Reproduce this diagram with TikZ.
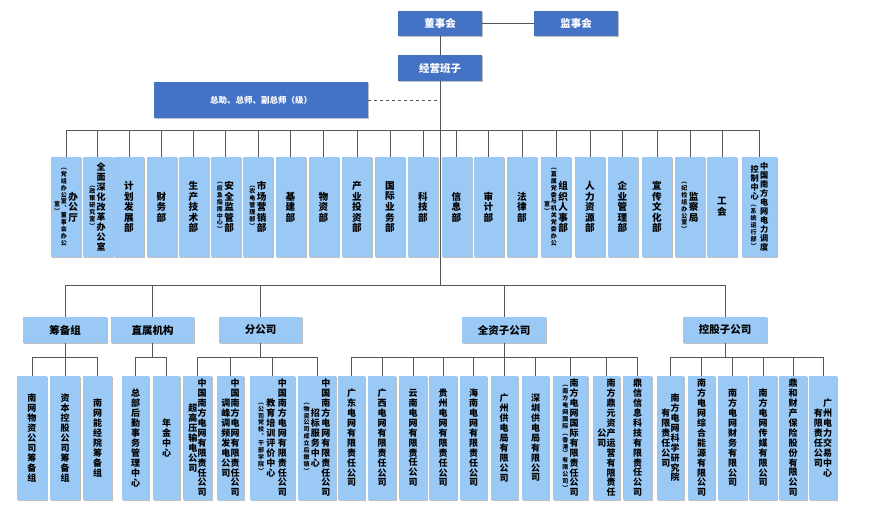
\documentclass[tikz,border=0pt]{standalone}
\usepackage{fontspec}
\setmainfont{Noto Sans CJK SC}
\usetikzlibrary{shadows}
\definecolor{boardblue}{RGB}{68,114,196}
\definecolor{deptblue}{RGB}{155,201,246}
\definecolor{linkgray}{RGB}{85,85,85}
% vertical text, one character per line
\makeatletter
\def\vchars#1{\vchars@#1\@nil}
\def\vchars@#1{\ifx\@nil#1\else\hbox to 1.05em{\hss#1\hss}\expandafter\vchars@\fi}
\makeatother
\newcommand{\colv}[1]{$\vcenter{\baselineskip=1.1em\lineskiplimit=-20pt\vchars{#1}}$}
\newcommand{\cols}[1]{$\vcenter{\fontsize{6}{6}\selectfont\baselineskip=1.15em\lineskiplimit=-20pt\vchars{#1}}$}
\newcommand{\colmix}[2]{$\vcenter{\baselineskip=1.1em\lineskiplimit=-20pt\vchars{#1}\fontsize{6}{6}\selectfont\baselineskip=1.15em\vchars{#2}}$}
\tikzset{
  link/.style={draw=linkgray, line width=0.9pt},
  soft shadow/.style={drop shadow={shadow xshift=1.2pt, shadow yshift=-1.2pt, opacity=.25, fill=black}},
  lead/.style={fill=boardblue, text=white, font=\bfseries\fontsize{10.5}{11}\selectfont,
    minimum width=84pt, minimum height=25pt, inner sep=0pt, soft shadow},
  dept/.style={fill=deptblue, minimum width=30pt, minimum height=100pt, inner sep=0pt,
    font=\bfseries\fontsize{9.6}{10}\selectfont, soft shadow},
  grp/.style={fill=deptblue, minimum width=84pt, minimum height=26pt, inner sep=0pt,
    font=\bfseries\fontsize{10.5}{11}\selectfont, soft shadow},
  unit/.style={fill=deptblue, minimum width=28pt, minimum height=124pt, inner sep=0pt,
    font=\bfseries\fontsize{9}{9}\selectfont, soft shadow},
}
\begin{document}
\begin{tikzpicture}[x=1pt, y=-1pt]
    \useasboundingbox (0,0) rectangle (893,516);
    %
    \node[lead] (dsh) at (440,23.5) {董事会};
    \node[lead] (jsh) at (576,23.5) {监事会};
    \node[lead, minimum height=26pt] (jybz) at (440,68) {经营班子};
    \node[lead, minimum width=214pt, minimum height=36pt, font=\bfseries\fontsize{8.5}{9}\selectfont] (zz) at (261,100) {总助、总师、副总师（级）};
    %
    \coordinate (bus1) at (440,130);
    \coordinate (bus2) at (440,285);
    \coordinate (bus3) at (0,357);
    % headquarters departments
    \node[dept] (d1) at (66,207) {\cols{室︶}\kern.5pt\cols{︵党组办公室︑董事会办公}\kern1pt\colv{办公厅}};
    \node[dept, font=\bfseries\fontsize{9}{9}\selectfont] (d2) at (97.5,207) {\cols{︵政策研究室︶}\kern1pt\colv{全面深化改革办公室}};
    \node[dept] (d3) at (129,207) {\colv{计划发展部}};
    \node[dept] (d4) at (161.5,207) {\colv{财务部}};
    \node[dept] (d5) at (193.5,207) {\colv{生产技术部}};
    \node[dept] (d6) at (225.5,207) {\cols{︵应急指挥中心︶}\kern1pt\colv{安全监管部}};
    \node[dept] (d7) at (258,207) {\cols{︵农电管理部︶}\kern1pt\colv{市场营销部}};
    \node[dept] (d8) at (290.5,207) {\colv{基建部}};
    \node[dept] (d9) at (323.5,207) {\colv{物资部}};
    \node[dept] (d10) at (357,207) {\colv{产业投资部}};
    \node[dept] (d11) at (390,207) {\colv{国际业务部}};
    \node[dept] (d12) at (423,207) {\colv{科技部}};
    \node[dept] (d13) at (456.5,207) {\colv{信息部}};
    \node[dept] (d14) at (488.5,207) {\colv{审计部}};
    \node[dept] (d15) at (522,207) {\colv{法律部}};
    \node[dept] (d16) at (556,207) {\cols{室︶}\kern.5pt\cols{︵直属党委与机关党委办公}\kern1pt\colv{组织人事部}};
    \node[dept] (d17) at (590,207) {\colv{人力资源部}};
    \node[dept] (d18) at (622.5,207) {\colv{企业管理部}};
    \node[dept] (d19) at (657,207) {\colv{宣传文化部}};
    \node[dept] (d20) at (690,207) {\cols{︵纪检组办公室︶}\kern1pt\colv{监察局}};
    \node[dept] (d21) at (722,207) {\colv{工会}};
    \node[dept, minimum width=35pt, font=\bfseries\fontsize{8.2}{8}\selectfont] (d22) at (759.5,207) {\colmix{控制中心}{︵系统运行部︶}\kern1pt\colv{中国南方电网电力调度}};
    % groups
    \node[grp] (cbz) at (65,330) {筹备组};
    \node[grp, minimum width=83pt] (zsjg) at (152.5,330) {直属机构};
    \node[grp, minimum width=83pt] (fgs) at (260.5,330) {分公司};
    \node[grp] (qzgs) at (504,330) {全资子公司};
    \node[grp] (kggs) at (725,330) {控股子公司};
    % units
    \node[unit, minimum width=30pt] (cb1) at (32,438) {\colv{南网物资公司筹备组}};
    \node[unit, minimum width=30pt] (cb2) at (65,438) {\colv{资本控股公司筹备组}};
    \node[unit, minimum width=29pt] (cb3) at (97.5,438) {\colv{南网能经院筹备组}};
    \node[unit, minimum width=27pt] (zs1) at (135.5,438) {\colv{总部后勤事务管理中心}};
    \node[unit, minimum width=27pt] (zs2) at (166.5,438) {\colv{年金中心}};
    \node[unit, minimum width=29pt] (fg1) at (197.5,438) {\colv{超高压输电公司}\colv{中国南方电网有限责任公司}};
    \node[unit, minimum width=27pt] (fg2) at (230.5,438) {\colv{调峰调频发电公司}\colv{中国南方电网有限责任公司}};
    \node[unit, minimum width=45pt] (fg3) at (272.5,438) {\cols{︵公司党校︑干部学院︶}\kern2pt\colv{教育培训评价中心}\kern2pt\colv{中国南方电网有限责任公司}};
    \node[unit, minimum width=38pt] (fg4) at (317,438) {\cols{︵物资公司成立后撤销︶}\kern1pt\colv{招标服务中心}\kern1pt\colv{中国南方电网有限责任公司}};
    \node[unit, minimum width=27pt] (qz1) at (351.5,438) {\colv{广东电网有限责任公司}};
    \node[unit] (qz2) at (382,438) {\colv{广西电网有限责任公司}};
    \node[unit] (qz3) at (413,438) {\colv{云南电网有限责任公司}};
    \node[unit] (qz4) at (443,438) {\colv{贵州电网有限责任公司}};
    \node[unit, minimum width=27pt] (qz5) at (473.5,438) {\colv{海南电网有限责任公司}};
    \node[unit, minimum width=27pt] (qz6) at (504,438) {\colv{广州供电局有限公司}};
    \node[unit, minimum width=27pt] (qz7) at (535.5,438) {\colv{深圳供电局有限公司}};
    \node[unit, minimum width=35pt] (qz8) at (570.5,438) {\cols{︵南方电网国际︵香港︶有限公司︶}\kern1pt\colv{南方电网国际有限责任公司}};
    \node[unit, minimum width=27pt] (qz9) at (606.5,438) {\colv{公司}\colv{南方鼎元资产运营有限责任}};
    \node[unit, minimum width=29pt] (qz10) at (637.5,438) {\colv{鼎信信息科技有限责任公司}};
    \node[unit, minimum width=27pt] (kg1) at (670.5,438) {\colv{有限责任公司}\colv{南方电网科学研究院}};
    \node[unit, minimum width=27pt] (kg2) at (701.5,438) {\colv{南方电网综合能源有限公司}};
    \node[unit, minimum width=29pt] (kg3) at (732.5,438) {\colv{南方电网财务有限公司}};
    \node[unit] (kg4) at (763,438) {\colv{南方电网传媒有限公司}};
    \node[unit] (kg5) at (793,438) {\colv{鼎和财产保险股份有限公司}};
    \node[unit] (kg6) at (823,438) {\colv{有限责任公司}\colv{广州电力交易中心}};
    % top links
    \draw[link] (dsh) -- (jsh);
    \draw[link] (dsh.south) -- (jybz.north);
    \draw[link] (jybz.south) -- (bus2);
    \draw[link, dashed] (zz.east) -- (zz.east -| jybz.south);
    % department bus
    \draw[link] (d1.north |- bus1) -- (d22.north |- bus1);
    \foreach \i in {1,...,22}
        \draw[link] (d\i.north |- bus1) -- (d\i.north);
    % group bus
    \draw[link] (cbz.north |- bus2) -- (kggs.north |- bus2);
    \foreach \g in {cbz,zsjg,fgs,qzgs,kggs}{
        \draw[link] (\g.north |- bus2) -- (\g.north);
        \draw[link] (\g.south) -- (\g.south |- bus3);
    }
    % unit buses
    \draw[link] (cb1.north |- bus3) -- (cb3.north |- bus3);
    \draw[link] (zs1.north |- bus3) -- (zs2.north |- bus3);
    \draw[link] (fg1.north |- bus3) -- (fg4.north |- bus3);
    \draw[link] (qz1.north |- bus3) -- (qz10.north |- bus3);
    \draw[link] (kg1.north |- bus3) -- (kg6.north |- bus3);
    \foreach \u in {cb1,cb2,cb3,zs1,zs2,fg1,fg2,fg3,fg4,qz1,qz2,qz3,qz4,qz5,qz6,qz7,qz8,qz9,qz10,kg1,kg2,kg3,kg4,kg5,kg6}
        \draw[link] (\u.north |- bus3) -- (\u.north);
\end{tikzpicture}
\end{document}
